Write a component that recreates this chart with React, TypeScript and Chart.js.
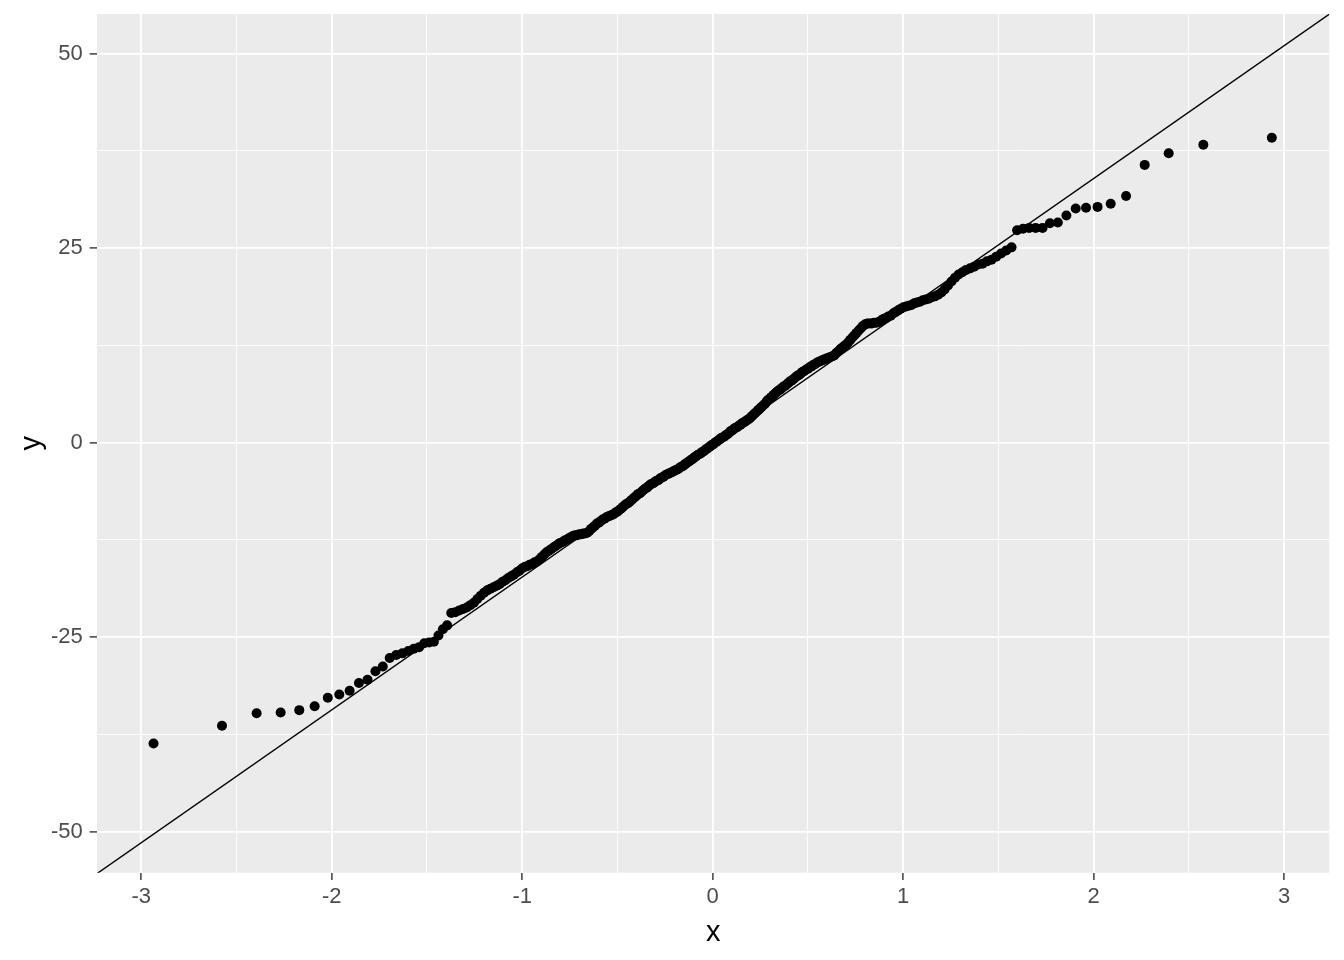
import React, { useEffect, useRef } from "react";
import { Chart, registerables } from "chart.js";

Chart.register(...registerables);

// Sorted sample values (y)
const sampleValues: number[] = [
  -38.7, -36.4, -34.8, -34.7, -34.4, -33.9, -32.8, -32.4, -31.9, -30.9,
  -30.5, -29.4, -28.8, -27.7, -27.3, -27.1, -26.8, -26.5, -26.3, -25.8,
  -25.7, -25.6, -24.8, -24.0, -23.5, -21.9, -21.8, -21.6, -21.4, -21.2,
  -20.9, -20.6, -20.1, -19.7, -19.3, -19.0, -18.8, -18.6, -18.4, -18.2,
  -17.9, -17.7, -17.4, -17.2, -17.0, -16.7, -16.5, -16.2, -16.0, -15.9,
  -15.7, -15.6, -15.4, -15.3, -15.0, -14.7, -14.4, -14.1, -13.9, -13.7,
  -13.5, -13.3, -13.1, -12.9, -12.8, -12.6, -12.5, -12.3, -12.2, -12.0,
  -11.9, -11.9, -11.8, -11.8, -11.7, -11.7, -11.6, -11.4, -11.1, -10.9,
  -10.7, -10.4, -10.3, -10.1, -9.9, -9.8, -9.6, -9.5, -9.4, -9.3,
  -9.2, -9.0, -8.9, -8.7, -8.5, -8.3, -8.1, -7.9, -7.8, -7.6,
  -7.4, -7.2, -7.0, -6.8, -6.6, -6.5, -6.3, -6.1, -5.9, -5.8,
  -5.6, -5.4, -5.3, -5.2, -5.0, -4.9, -4.8, -4.6, -4.5, -4.4,
  -4.2, -4.1, -4.0, -3.9, -3.8, -3.7, -3.6, -3.5, -3.4, -3.2,
  -3.1, -3.0, -2.8, -2.7, -2.5, -2.4, -2.2, -2.1, -1.9, -1.8,
  -1.6, -1.5, -1.4, -1.2, -1.1, -0.9, -0.8, -0.6, -0.5, -0.3,
  -0.2, 0.0, 0.1, 0.3, 0.4, 0.6, 0.7, 0.8, 1.0, 1.1,
  1.3, 1.5, 1.6, 1.8, 1.9, 2.0, 2.2, 2.3, 2.5, 2.6,
  2.7, 2.9, 3.0, 3.2, 3.4, 3.6, 3.8, 4.0, 4.2, 4.4,
  4.6, 4.8, 5.0, 5.3, 5.5, 5.7, 5.9, 6.1, 6.3, 6.5,
  6.7, 6.8, 7.0, 7.2, 7.3, 7.5, 7.7, 7.9, 8.0, 8.2,
  8.4, 8.6, 8.7, 8.9, 9.1, 9.2, 9.4, 9.5, 9.7, 9.8,
  10.0, 10.1, 10.3, 10.4, 10.5, 10.6, 10.7, 10.8, 10.9, 11.0,
  11.1, 11.2, 11.5, 11.7, 12.0, 12.2, 12.4, 12.6, 12.9, 13.2,
  13.5, 13.8, 14.1, 14.4, 14.7, 15.0, 15.2, 15.3, 15.3, 15.3,
  15.4, 15.4, 15.5, 15.7, 15.9, 16.0, 16.2, 16.3, 16.6, 16.8,
  17.0, 17.2, 17.4, 17.5, 17.6, 17.7, 17.9, 18.0, 18.1, 18.3,
  18.4, 18.5, 18.7, 18.8, 19.0, 19.3, 19.7, 20.2, 20.7, 21.2,
  21.6, 21.9, 22.2, 22.4, 22.6, 22.9, 23.0, 23.3, 23.5, 23.9,
  24.3, 24.7, 25.1, 27.3, 27.5, 27.6, 27.6, 27.6, 28.2, 28.3,
  29.2, 30.1, 30.2, 30.3, 30.7, 31.7, 35.7, 37.2, 38.3, 39.2,
];

// Reference line (qq line)
const lineSlope = 17.08;
const lineIntercept = -0.21;

// Axis limits and ticks
const xLimits = [-3.232, 3.237];
const yLimits = [-55.3, 55.1];
const xTickValues = [-3, -2.5, -2, -1.5, -1, -0.5, 0, 0.5, 1, 1.5, 2, 2.5, 3];
const xMajorTicks = [-3, -2, -1, 0, 1, 2, 3];
const yTickValues = [-50, -37.5, -25, -12.5, 0, 12.5, 25, 37.5, 50];
const yMajorTicks = [-50, -25, 0, 25, 50];
const xTitle = "x";
const yTitle = "y";

// Theoretical normal quantile (what stat_qq computes)
function qnorm(p: number): number {
  const a = [-3.969683028665376e1, 2.209460984245205e2, -2.759285104469687e2, 1.38357751867269e2, -3.066479806614716e1, 2.506628277459239];
  const b = [-5.447609879822406e1, 1.615858368580409e2, -1.556989798598866e2, 6.680131188771972e1, -1.328068155288572e1];
  const c = [-7.784894002430293e-3, -3.223964580411365e-1, -2.400758277161838, -2.549732539343734, 4.374664141464968, 2.938163982698783];
  const d = [7.784695709041462e-3, 3.224671290700398e-1, 2.445134137142996, 3.754408661907416];
  const pl = 0.02425;
  if (p < pl) {
    const q = Math.sqrt(-2 * Math.log(p));
    return (((((c[0] * q + c[1]) * q + c[2]) * q + c[3]) * q + c[4]) * q + c[5]) / ((((d[0] * q + d[1]) * q + d[2]) * q + d[3]) * q + 1);
  }
  if (p > 1 - pl) {
    const q = Math.sqrt(-2 * Math.log(1 - p));
    return -(((((c[0] * q + c[1]) * q + c[2]) * q + c[3]) * q + c[4]) * q + c[5]) / ((((d[0] * q + d[1]) * q + d[2]) * q + d[3]) * q + 1);
  }
  const q = p - 0.5;
  const r = q * q;
  return ((((((a[0] * r + a[1]) * r + a[2]) * r + a[3]) * r + a[4]) * r + a[5]) * q) / (((((b[0] * r + b[1]) * r + b[2]) * r + b[3]) * r + b[4]) * r + 1);
}

const FONT = "'Liberation Sans', Arial, sans-serif";

const panelPlugin = {
  id: "panelBg",
  beforeDraw(chart: any) {
    const { ctx, chartArea } = chart;
    ctx.save();
    ctx.fillStyle = "#FFFFFF";
    ctx.fillRect(0, 0, chart.width, chart.height);
    ctx.fillStyle = "#EBEBEB";
    ctx.fillRect(chartArea.left, chartArea.top, chartArea.right - chartArea.left, chartArea.bottom - chartArea.top);
    ctx.restore();
  },
};

export default function App() {
  const canvasRef = useRef<HTMLCanvasElement | null>(null);

  useEffect(() => {
    const canvas = canvasRef.current;
    if (!canvas) return;
    const n = sampleValues.length;
    const points = sampleValues.map((v, i) => ({ x: qnorm((i + 0.5) / n), y: v }));
    const linePts = xLimits.map((x) => ({ x, y: lineSlope * x + lineIntercept }));

    const isMajorX = (v: number) => xMajorTicks.includes(v);
    const isMajorY = (v: number) => yMajorTicks.includes(v);

    const chart = new Chart(canvas, {
      type: "scatter",
      data: {
        datasets: [
          {
            type: "line",
            data: linePts,
            borderColor: "#000000",
            borderWidth: 1.4,
            pointRadius: 0,
            showLine: true,
            fill: false,
            order: 0,
          } as any,
          {
            type: "scatter",
            data: points,
            pointRadius: 5,
            pointBackgroundColor: "#000000",
            pointBorderWidth: 0,
            order: 1,
          } as any,
        ],
      },
      options: {
        animation: false,
        responsive: false,
        events: [],
        layout: { padding: { left: 0, top: 14, right: 14.7, bottom: 0 } },
        plugins: { legend: { display: false }, tooltip: { enabled: false } },
        scales: {
          x: {
            type: "linear",
            min: xLimits[0],
            max: xLimits[1],
            afterBuildTicks: (scale: any) => {
              scale.ticks = xTickValues.map((v) => ({ value: v }));
            },
            afterFit: (scale: any) => {
              scale.height = 87.3;
              scale.paddingLeft = 0;
              scale.paddingRight = 0;
            },
            border: { display: false },
            grid: {
              color: "#FFFFFF",
              lineWidth: (ctx: any) => (ctx.tick && isMajorX(ctx.tick.value) ? 1.8 : 0.9),
              tickColor: (ctx: any) => (ctx.tick && isMajorX(ctx.tick.value) ? "#333333" : "rgba(0,0,0,0)"),
              tickWidth: 1.4,
              tickLength: 7.3,
              drawTicks: true,
            },
            ticks: {
              autoSkip: false,
              maxRotation: 0,
              minRotation: 0,
              padding: 4.2,
              color: "#4D4D4D",
              font: { family: FONT, size: 22 },
              callback: (v: any) => (isMajorX(Number(v)) ? String(v) : ""),
            },
            title: {
              display: true,
              text: xTitle,
              color: "#000000",
              font: { family: FONT, size: 29 },
              padding: { top: 0, bottom: 9.8 },
            },
          },
          y: {
            type: "linear",
            min: yLimits[0],
            max: yLimits[1],
            afterBuildTicks: (scale: any) => {
              scale.ticks = yTickValues.map((v) => ({ value: v }));
            },
            afterFit: (scale: any) => {
              scale.width = 97;
              scale.paddingTop = 0;
              scale.paddingBottom = 0;
            },
            border: { display: false },
            grid: {
              color: "#FFFFFF",
              lineWidth: (ctx: any) => (ctx.tick && isMajorY(ctx.tick.value) ? 1.8 : 0.9),
              tickColor: (ctx: any) => (ctx.tick && isMajorY(ctx.tick.value) ? "#333333" : "rgba(0,0,0,0)"),
              tickWidth: 1.4,
              tickLength: 7.3,
              drawTicks: true,
            },
            ticks: {
              autoSkip: false,
              padding: 7,
              color: "#4D4D4D",
              font: { family: FONT, size: 22 },
              callback: (v: any) => (isMajorY(Number(v)) ? String(v) : ""),
            },
            title: {
              display: true,
              text: yTitle,
              color: "#000000",
              font: { family: FONT, size: 29 },
              padding: { top: 14.5, bottom: 0 },
            },
          },
        },
      } as any,
      plugins: [panelPlugin],
    });
    return () => chart.destroy();
  }, []);

  return (
    <div style={{ position: "fixed", left: 0, top: 0, width: 1344, height: 960, background: "#FFFFFF" }}>
      <canvas ref={canvasRef} width={1344} height={960} style={{ width: 1344, height: 960, display: "block" }} />
    </div>
  );
}
